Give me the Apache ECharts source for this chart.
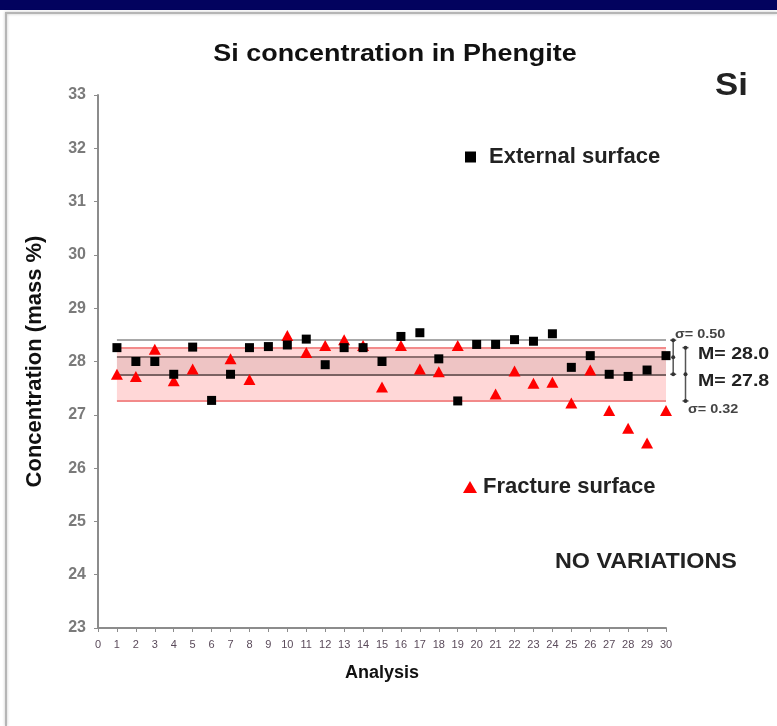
<!DOCTYPE html>
<html>
<head>
<meta charset="utf-8">
<script src="https://cdn.jsdelivr.net/npm/echarts@6/dist/echarts.min.js"></script>
<style>
  html, body { margin: 0; padding: 0; background: #fff; }
  #chart { width: 777px; height: 726px; }
</style>
</head>
<body>
<div id="chart"></div>
<script>
// Analysis numbers (x) and Si concentration (mass %) per surface
const analyses = [1,2,3,4,5,6,7,8,9,10,11,12,13,14,15,16,17,18,19,20,21,22,23,24,25,26,27,28,29,30];
const externalSurface = [28.26, 28.00, 28.00, 27.76, 28.27, 27.27, 27.76, 28.26, 28.28, 28.31,
                         28.42, 27.94, 28.26, 28.26, 28.00, 28.47, 28.54, 28.05, 27.26, 28.32,
                         28.32, 28.41, 28.38, 28.52, 27.89, 28.11, 27.76, 27.72, 27.84, 28.11];
const fractureSurface = [27.76, 27.72, 28.23, 27.64, 27.86, null, 28.05, 27.66, null, 28.49,
                         28.17, 28.30, 28.41, 28.30, 27.52, 28.30, 27.86, 27.81, 28.30, null,
                         27.39, 27.82, 27.59, 27.61, 27.22, 27.84, 27.08, 26.75, 26.47, 27.08];

// Mean and standard deviation for each surface
const externalMean = 28.08, externalSigma = 0.32;
const fractureMean = 27.76, fractureSigma = 0.50;

const yTicks = [23, 24, 25, 26, 27, 28, 29, 30, 31, 32, 33];
const xTicks = [0, 30];

const FONT = '"Liberation Sans", Arial, sans-serif';

const chart = echarts.init(document.getElementById('chart'));

const pairs = (ys) => analyses.map((a, i) => [a, ys[i]]);
const hLine = (y, color, width) => [
  { coord: [analyses[0], y], lineStyle: { color: color, width: width, type: 'solid' } },
  { coord: [analyses[analyses.length - 1], y] }
];

// Error-bar style brackets beside the plot showing mean ± sigma
const brackets = [
  [30.38, externalMean - externalSigma, externalMean, externalMean + externalSigma],
  [31.03, fractureMean - fractureSigma, fractureMean, fractureMean + fractureSigma]
];

// Free-standing text, slightly widened like the rest of the drawing
const label = (text, x, y, size, opts) => Object.assign({
  type: 'text', x: x, y: y, silent: true,
  scaleX: 1, scaleY: 1,
  style: {
    text: text, fontFamily: FONT, fontWeight: 'bold', fontSize: size, fill: '#222',
    align: 'left', verticalAlign: 'middle'
  }
}, opts || {});

chart.setOption({
  animation: false,
  backgroundColor: '#fff',
  grid: { left: 98, right: 111, top: 95, bottom: 98, containLabel: false },
  xAxis: {
    type: 'value',
    min: xTicks[0], max: xTicks[1], interval: 1,
    name: 'Analysis', nameLocation: 'middle', nameGap: 36,
    nameTextStyle: { fontFamily: FONT, fontWeight: 'bold', fontSize: 18, color: '#111' },
    axisLine: { show: true, lineStyle: { color: '#8c8c8c', width: 2 } },
    axisTick: { show: true, length: 4, lineStyle: { color: '#8c8c8c' } },
    axisLabel: { fontFamily: FONT, fontSize: 11, color: '#5a4a5a', margin: 11 },
    splitLine: { show: false }
  },
  yAxis: {
    type: 'value',
    min: yTicks[0], max: yTicks[yTicks.length - 1], interval: 1,
    name: 'Concentration (mass %)', nameLocation: 'middle', nameGap: 52, nameRotate: 90,
    nameTextStyle: { fontFamily: FONT, fontWeight: 'bold', fontSize: 22, color: '#111' },
    axisLine: { show: true, lineStyle: { color: '#8c8c8c', width: 2 } },
    axisTick: { show: true, length: 4, inside: false, lineStyle: { color: '#8c8c8c' } },
    axisLabel: { fontFamily: FONT, fontSize: 16, fontWeight: 'bold', color: '#7a7a7a', margin: 12 },
    splitLine: { show: false }
  },
  legend: [
    {
      data: [{ name: 'External surface', icon: 'rect' }],
      left: 460, top: 141, itemWidth: 11, itemHeight: 11,
      textStyle: { fontFamily: FONT, fontWeight: 'bold', fontSize: 22, lineHeight: 22, color: '#222', padding: [0, 0, 0, 8] }
    },
    {
      data: [{ name: 'Fracture surface', icon: 'triangle' }],
      left: 458, top: 471, itemWidth: 14, itemHeight: 12,
      textStyle: { fontFamily: FONT, fontWeight: 'bold', fontSize: 22, lineHeight: 22, color: '#222', padding: [0, 0, 0, 1] }
    }
  ],
  series: [
    {
      name: 'bands',
      type: 'line',
      data: [],
      silent: true,
      z: 1,
      markArea: {
        silent: true, z: 1,
        data: [
          [{ coord: [analyses[0], fractureMean - fractureSigma], itemStyle: { color: '#ffd7d7' } },
           { coord: [analyses[analyses.length - 1], fractureMean + fractureSigma] }],
          [{ coord: [analyses[0], externalMean - externalSigma], itemStyle: { color: 'rgba(120,70,70,0.13)' } },
           { coord: [analyses[analyses.length - 1], externalMean] }]
        ]
      },
      markLine: {
        silent: true, symbol: 'none', label: { show: false }, z: 2,
        data: [
          hLine(externalMean + externalSigma, '#a8a8a8', 2),
          hLine(fractureMean + fractureSigma, '#f28a8a', 2),
          hLine(externalMean, '#8f7171', 2),
          hLine(externalMean - externalSigma, '#7a6262', 2),
          hLine(fractureMean - fractureSigma, '#f28a8a', 2)
        ]
      }
    },
    {
      name: 'Fracture surface',
      type: 'scatter',
      symbol: 'triangle',
      symbolSize: [12, 11],
      itemStyle: { color: '#ff0000', opacity: 1 },
      data: pairs(fractureSurface),
      z: 3
    },
    {
      name: 'External surface',
      type: 'scatter',
      symbol: 'rect',
      symbolSize: 9,
      itemStyle: { color: '#000000', opacity: 1 },
      data: pairs(externalSurface),
      z: 4
    },
    {
      name: 'sigma brackets',
      type: 'custom',
      clip: false,
      silent: true,
      z: 5,
      data: brackets,
      renderItem: function (params, api) {
        const x = api.value(0);
        const lo = api.coord([x, api.value(1)]);
        const mid = api.coord([x, api.value(2)]);
        const hi = api.coord([x, api.value(3)]);
        const dot = (p) => ({ type: 'circle', shape: { cx: p[0], cy: p[1], r: 2 }, style: { fill: '#333' } });
        return {
          type: 'group',
          children: [
            { type: 'line', shape: { x1: hi[0], y1: hi[1], x2: lo[0], y2: lo[1] }, style: { stroke: '#555', lineWidth: 1.5 } },
            { type: 'line', shape: { x1: hi[0] - 3, y1: hi[1], x2: hi[0] + 3, y2: hi[1] }, style: { stroke: '#555', lineWidth: 1.5 } },
            { type: 'line', shape: { x1: lo[0] - 3, y1: lo[1], x2: lo[0] + 3, y2: lo[1] }, style: { stroke: '#555', lineWidth: 1.5 } },
            dot(hi), dot(mid), dot(lo)
          ]
        };
      }
    }
  ],
  graphic: [
    { type: 'rect', left: 0, top: 0, shape: { width: 777, height: 10 }, style: { fill: '#02025e' }, silent: true },
    { type: 'polyline', shape: { points: [[6, 726], [6, 13], [777, 13]] },
      style: { stroke: '#b5b5b5', lineWidth: 2, fill: null, shadowBlur: 3, shadowColor: 'rgba(0,0,0,0.25)' }, silent: true },
    label('Si concentration in Phengite', 395, 55, 23, { scaleX: 1.17, style: { text: 'Si concentration in Phengite', fontFamily: FONT, fontWeight: 'bold', fontSize: 23, fill: '#111', align: 'center', verticalAlign: 'middle' } }),
    label('Si', 715, 86, 31, { scaleX: 1.12 }),
    label('NO VARIATIONS', 555, 562, 22, { scaleX: 1.06 }),
    label('σ= 0.50', 675, 335, 12, { scaleX: 1.2, style: { text: 'σ= 0.50', fontFamily: FONT, fontWeight: 'bold', fontSize: 12, fill: '#444', align: 'left', verticalAlign: 'middle' } }),
    label('σ= 0.32', 688, 410, 12, { scaleX: 1.2, style: { text: 'σ= 0.32', fontFamily: FONT, fontWeight: 'bold', fontSize: 12, fill: '#444', align: 'left', verticalAlign: 'middle' } }),
    label('M= 28.0', 698, 354, 17, { scaleX: 1.15 }),
    label('M= 27.8', 698, 381, 17, { scaleX: 1.15 })
  ]
});
</script>
</body>
</html>
